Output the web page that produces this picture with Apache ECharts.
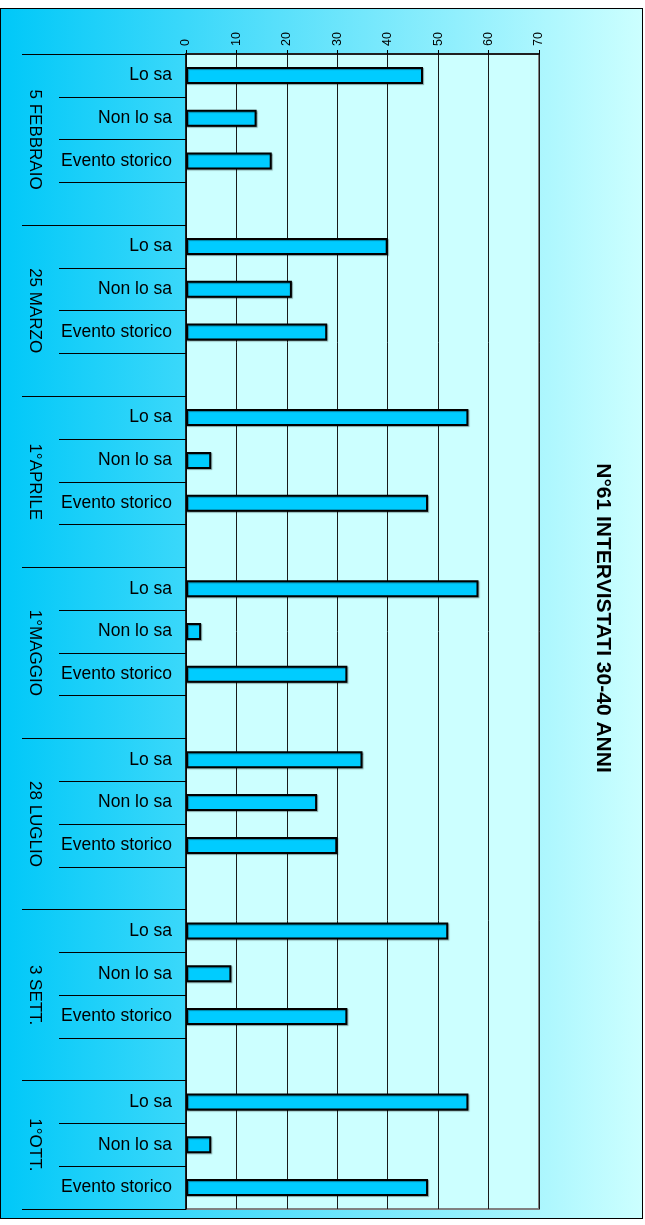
<!DOCTYPE html>
<html>
<head>
<meta charset="utf-8">
<script src="https://cdn.jsdelivr.net/npm/echarts@6/dist/echarts.min.js"></script>
<style>
  html, body { margin: 0; padding: 0; background: #ffffff; }
  #chart {
    position: absolute; left: 0; top: 8px;
    width: 643px; height: 1211px;
    box-sizing: border-box;
    border: 1.5px solid #000;
    background: linear-gradient(to right, #00C8F8 0%, #CCFFFF 100%);
  }
</style>
</head>
<body>
<div id="chart"></div>
<script>
// Survey dates (one group of bars each) and the three answers per date
const groupLabels = ['5 FEBBRAIO', '25 MARZO', '1°APRILE', '1°MAGGIO', '28 LUGLIO', '3 SETT.', '1°OTT.'];
const answerLabels = ['Lo sa', 'Non lo sa', 'Evento storico'];

// Number of interviewees per answer, one value per date
const loSa          = [47, 40, 56, 58, 35, 52, 56];
const nonLoSa       = [14, 21,  5,  3, 26,  9,  5];
const eventoStorico = [17, 28, 48, 32, 30, 32, 48];

// Value axis scale
const valueMin = 0;
const valueMax = 70;
const valueStep = 10;

const titleText = 'N°61 INTERVISTATI 30-40 ANNI';

// Flatten the groups into one category list, with an empty row between dates
const categories = [];
const values = [];
groupLabels.forEach((g, i) => {
  const row = [loSa[i], nonLoSa[i], eventoStorico[i]];
  answerLabels.forEach((a, j) => { categories.push(a); values.push(row[j]); });
  if (i < groupLabels.length - 1) { categories.push(''); values.push('-'); }
});

// Half-row positions used for the date labels and the long separators
const halfRows = categories.length * 2 + 1;
const groupSlots = answerLabels.length + 1;
const groupLabelAt = {};
const groupEdges = new Set([0, halfRows - 1]);
groupLabels.forEach((g, i) => {
  const start = i * groupSlots * 2;
  const rows = (i < groupLabels.length - 1) ? groupSlots : answerLabels.length;
  groupLabelAt[start + rows] = g;
  groupEdges.add(start);
});
const halfRowNames = [];
for (let k = 0; k < halfRows; k++) halfRowNames.push(groupLabelAt[k] || '');

const chart = echarts.init(document.getElementById('chart'), null, { renderer: 'canvas' });
const font = '"Liberation Sans", Arial, Helvetica, sans-serif';

chart.setOption({
  backgroundColor: 'transparent',
  animation: false,
  textStyle: { fontFamily: font },
  grid: {
    left: 185, top: 45, width: 353, height: 1155,
    show: true, backgroundColor: '#CCFFFF',
    borderColor: '#808080', borderWidth: 2
  },
  xAxis: {
    type: 'value', position: 'top',
    min: valueMin, max: valueMax, interval: valueStep,
    axisLine: { show: true, lineStyle: { color: '#000', width: 1.5 } },
    axisTick: { show: true, length: 4, lineStyle: { color: '#000' } },
    splitLine: { show: true, lineStyle: { color: '#1a1a1a', width: 1 } },
    axisLabel: { rotate: -90, color: '#000', fontSize: 12.5, margin: 8, fontFamily: font }
  },
  yAxis: [
    {
      type: 'category', inverse: true, position: 'left',
      data: categories,
      axisLine: { show: true, lineStyle: { color: '#000', width: 1.5 } },
      axisTick: { show: true, length: 127, lineStyle: { color: '#000', width: 1 } },
      axisLabel: { interval: 0, color: '#000', fontSize: 17.5, margin: 14, fontFamily: font },
      splitLine: { show: false }
    },
    {
      type: 'category', inverse: true, position: 'left', boundaryGap: false,
      data: halfRowNames,
      axisLine: { show: false },
      axisTick: {
        show: true, length: 164,
        interval: (idx) => groupEdges.has(idx),
        lineStyle: { color: '#000', width: 1 }
      },
      axisLabel: { interval: 0, rotate: -90, color: '#000', fontSize: 17, margin: 143, fontFamily: font },
      splitLine: { show: false }
    }
  ],
  series: [{
    type: 'bar',
    xAxisIndex: 0, yAxisIndex: 0,
    data: values,
    barWidth: 17,
    itemStyle: {
      color: '#00CCFF', borderColor: '#000', borderWidth: 2,
      shadowColor: 'rgba(0,0,0,0.35)', shadowBlur: 1, shadowOffsetX: 1, shadowOffsetY: 1
    }
  }],
  graphic: [{
    type: 'text',
    x: 602, y: 609,
    rotation: -Math.PI / 2,
    style: {
      text: titleText, fill: '#000',
      font: 'bold 21px ' + font,
      align: 'center', verticalAlign: 'middle'
    }
  }]
});
</script>
</body>
</html>
